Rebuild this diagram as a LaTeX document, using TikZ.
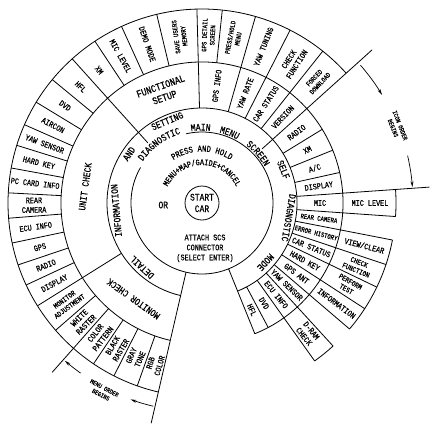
\documentclass[tikz,border=0pt]{standalone}
\usepackage{fontspec}
\setmainfont{Liberation Mono}[FakeStretch=0.8,FakeBold=0.6]
\usetikzlibrary{decorations.text,arrows.meta}
\newcommand\myrad[3]{\draw (#1:#2) -- (#1:#3);}
\newcommand\myarc[3]{\draw (#1:#3) arc[start angle=#1,end angle=#2,radius=#3];}
\newcommand\LL[5]{\node[#1,rotate={#2-180}] (#5) at (#2:#3) {#4};}
\newcommand\RR[5]{\node[#1,rotate={#2}] (#5) at (#2:#3) {#4};}
\newcommand\TT[5]{\node[#1,rotate={#2-90}] (#5) at (#2:#3) {#4};}
\begin{document}
\begin{tikzpicture}[x=1pt,y=1pt,line width=0.8pt,
  lab/.style={inner sep=0pt,align=center,font=\fontsize{8.5}{9.5}\selectfont},
  mid/.style={lab,font=\fontsize{7.5}{8.5}\selectfont},
  sml/.style={lab,font=\fontsize{7}{8}\selectfont},
  big/.style={lab,font=\fontsize{10}{11}\selectfont},
  tiny/.style={lab,font=\fontsize{6.5}{7.5}\selectfont},
  arr/.style={-{Stealth[length=6pt,width=3pt]},line width=0.7pt}]
\fill[white] (0,0) rectangle (439,-434);
\useasboundingbox (0,0) rectangle (439,-434);
\begin{scope}[shift={(202,-203)}]
% ---- circles and rings
\draw (150:71) arc[start angle=150,end angle=463,radius=71];
\node[circle,draw,minimum size=34pt,inner sep=0pt,align=center,font=\fontsize{10}{11.5}\selectfont] (start) at (0,0) {START\\CAR};
\myarc{-68}{257}{95}
\myarc{-68}{257}{141}
\myarc{42}{257}{194}
\myarc{-4}{4}{194}
\myarc{-40.5}{-11}{194}
\myarc{-54.5}{-47.5}{194}
% ---- radial dividers
\myrad{42}{81}{229}
\myrad{132}{81}{194}
\myrad{257}{71}{226}
\myrad{-68}{71}{141}
\myrad{4}{95}{228}
\myrad{228.5}{141}{226}
\foreach \a in {51.5,63,74,91.5,212,-4,-11,-18.5,-25.7,-33,-40.5,-47.5,-54.5} {\myrad{\a}{95}{194}}
\foreach \a in {84,103.5,114.5,123.5,140.5,148.7,156.2,162.7,169.6,177,184.5,191.9,198.6,205,221,236,243,250.5} {\myrad{\a}{141}{194}}
\foreach \a in {31.5,22,12.5,-62} {\myrad{\a}{95}{141}}
% ---- inner texts
\path[decorate,decoration={text along path,text align=center,text={|\fontsize{9}{9}\selectfont|PRESS AND HOLD}}] (140:51.5) arc[start angle=140,end angle=40,radius=51.5];
\path[decorate,decoration={text along path,text align=center,text={|\fontsize{8.5}{8.5}\selectfont|MENU+MAP/GAIDE+CANCEL}}] (172:38) arc[start angle=172,end angle=8,radius=38];
\path[decorate,decoration={text along path,text align=center,text={|\fontsize{10}{10}\selectfont|DIAGNOSTIC}}] (148:72.5) arc[start angle=148,end angle=104,radius=72.5];
\path[decorate,decoration={text along path,text align=center,text={|\fontsize{10}{10}\selectfont|MAIN}}] (99:72.5) arc[start angle=99,end angle=83,radius=72.5];
\path[decorate,decoration={text along path,text align=center,text={|\fontsize{10}{10}\selectfont|MENU}}] (77:72.5) arc[start angle=77,end angle=60,radius=72.5];
\path[decorate,decoration={text along path,text align=center,text={|\fontsize{10}{10}\selectfont|SCREEN}}] (54:72.5) arc[start angle=54,end angle=29,radius=72.5];
\node[big] (or) at (-38.7,-2) {OR};
\node[lab,font=\fontsize{8.5}{10}\selectfont] (att) at (3,-45.3) {ATTACH SCS\\CONNECTOR\\(SELECT ENTER)};
% ---- ring 2
\TT{big}{113}{89}{SETTING}{g1}
\TT{big}{22.3}{88}{SELF}{g2}
\TT{big}{-9.7}{88}{DIAGNOSTIC}{g3}
\TT{big}{-43}{87}{MODE}{g4}
\TT{big}{185}{86}{INFORMATION}{g5}
\TT{big}{146}{88}{AND}{g6}
\TT{big}{227}{88}{DETAIL}{g7}
% ---- ring 3
\RR{lab}{46.75}{118}{VERSION}{s1}
\RR{lab}{57.25}{118}{CAR STATUS}{s2}
\RR{lab}{68.5}{118}{YAW RATE}{s3}
\RR{lab}{82.75}{118}{GPS INFO}{s4}
\TT{big,font=\fontsize{10.5}{12}\selectfont}{109.5}{118}{FUNCTIONAL\\SETUP}{s5}
\TT{big}{172}{118}{UNIT CHECK}{s6}
\TT{big}{234.5}{118}{MONITOR CHECK}{s7}
\RR{lab}{36.75}{118}{RADIO}{r1}
\RR{lab}{26.75}{118}{XM}{r2}
\RR{lab}{17.25}{118}{A/C}{r3}
\RR{lab}{8.25}{118}{DISPLAY}{r4}
\RR{lab}{0}{118}{MIC}{r5}
\RR{sml}{-7.5}{118}{REAR CAMERA}{r6}
\RR{sml}{-14.75}{118}{ERROR HISTORY}{r7}
\RR{lab}{-22.1}{118}{CAR STATUS}{r8}
\RR{lab}{-29.35}{118}{HARD KEY}{r9}
\RR{lab}{-36.75}{118}{GPS ANT}{r10}
\RR{lab}{-44}{118}{YAW SENSOR}{r11}
\RR{lab}{-51}{118}{ECU INFO}{r12}
\RR{lab}{-58.25}{118}{DVD}{r13}
\RR{lab}{-65}{118}{HFL}{r14}
% ---- ring 4
\RR{sml}{46.75}{168}{FORCED\\DOWNLOAD}{t1}
\RR{lab}{57.25}{168}{CHECK\\FUNCTION}{t2}
\RR{lab}{68.5}{168}{YAW TUNING}{t3}
\RR{sml}{79}{168}{PRESS/HOLD\\MENU}{t4}
\RR{sml}{87.75}{168}{GPS DETAIL\\SCREEN}{t5}
\RR{sml}{97.5}{168}{SAVE USERS\\MEMORY}{t6}
\LL{lab}{109}{168}{DEMO MODE}{t7}
\LL{lab}{119}{168}{MIC LEVEL}{t8}
\LL{lab}{127.75}{168}{XM}{t9}
\LL{lab}{136.25}{168}{HFL}{l1}
\LL{lab}{144.6}{168}{DVD}{l2}
\LL{lab}{152.45}{168}{AIRCON}{l3}
\LL{lab}{159.45}{168}{YAW SENSOR}{l4}
\LL{lab}{166.15}{168}{HARD KEY}{l5}
\LL{lab}{173.3}{168}{PC CARD INFO}{l6}
\LL{lab}{180.75}{168}{REAR\\CAMERA}{l7}
\LL{lab}{188.2}{168}{ECU INFO}{l8}
\LL{lab}{195.25}{168}{GPS}{l9}
\LL{lab}{201.8}{168}{RADIO}{l10}
\LL{lab}{208.5}{168}{DISPLAY}{l11}
\LL{mid}{216.5}{168}{MONITOR\\ADJUSTMENT}{m1}
\LL{lab}{224.75}{168}{WHITE\\RASTER}{m2}
\LL{lab}{232.25}{168}{COLOR\\PATTERN}{m3}
\LL{lab}{239.5}{168}{BLACK\\RASTER}{m4}
\LL{lab}{246.75}{168}{GRAY\\TONE}{m5}
\LL{lab}{253.75}{168}{RGB\\COLOR}{m6}
\RR{lab}{0}{168}{MIC LEVEL}{q1}
\RR{lab}{-14.75}{168}{VIEW/CLEAR}{q2}
\RR{mid}{-22.1}{168}{CHECK\\FUNCTION}{q3}
\RR{mid}{-29.35}{168}{PERFORM\\TEST}{q4}
\RR{lab}{-36.75}{168}{INFORMATION}{q5}
\RR{lab}{-51}{168}{D-RAM\\CHECK}{q6}
% ---- order arrows
\draw[arr] (41:210) arc[start angle=41,end angle=31,radius=210];
\draw[arr] (13:211) arc[start angle=13,end angle=4.3,radius=211];
\node[tiny,rotate=-68.6] (icon) at (21.4:209) {ICON ORDER\\BEGINS};
\draw[arr] (256.5:209) arc[start angle=256.5,end angle=250,radius=209];
\draw[arr] (234.5:209) arc[start angle=234.5,end angle=229,radius=209];
\node[tiny,rotate=-28] (menu) at (242.2:213) {MENU ORDER\\BEGINS};
\end{scope}
\end{tikzpicture}
\end{document}
